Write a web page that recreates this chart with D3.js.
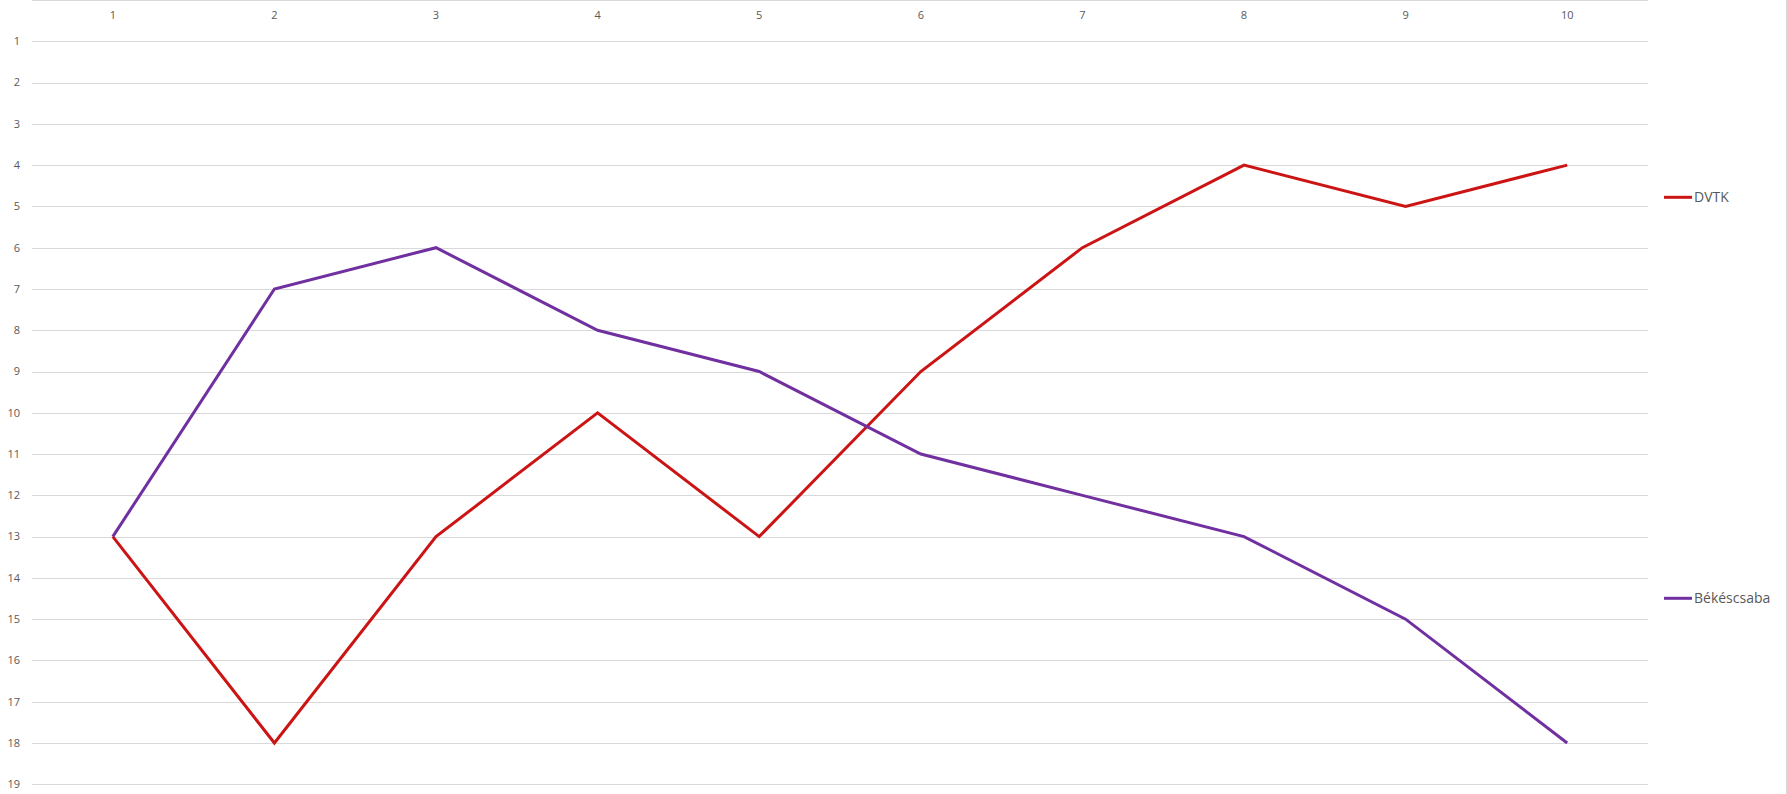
<!DOCTYPE html>
<html><head><meta charset="utf-8">
<script src="https://cdn.jsdelivr.net/npm/d3@7"></script>
<style>
html,body{margin:0;padding:0;background:#fff;}
svg{display:block;}
text{font-family:"Open Sans","Noto Sans",sans-serif;}
</style></head>
<body>
<svg id="chart" width="1787" height="794"></svg>
<script>
const rounds = [1,2,3,4,5,6,7,8,9,10];
const dvtk = [13,18,13,10,13,9,6,4,5,4];
const bekescsaba = [13,7,6,8,9,11,12,13,15,18];
const yTicks = [1,2,3,4,5,6,7,8,9,10,11,12,13,14,15,16,17,18,19];
const seriesNames = ["DVTK","Békéscsaba"];
const seriesColors = ["#cc1414","#7030a0"];

const svg = d3.select("#chart");
const plotLeft = 32, plotRight = 1648, plotTop = 0, plotBottom = 784.3;

const x = d3.scaleBand().domain(rounds).range([plotLeft, plotRight]);
const y = d3.scaleLinear().domain([0,19]).range([plotTop, plotBottom]);

// gridlines
svg.append("g").selectAll("line").data([0].concat(yTicks)).join("line")
  .attr("x1", plotLeft).attr("x2", plotRight)
  .attr("y1", d => Math.round(y(d))+0.5).attr("y2", d => Math.round(y(d))+0.5)
  .attr("stroke", "#d9d9d9").attr("stroke-width", 1);

// y labels
svg.append("g").selectAll("text").data(yTicks).join("text")
  .attr("x", 20).attr("y", d => y(d)).attr("dy", "0.35em")
  .attr("text-anchor", "end").attr("font-size", 11).attr("fill", "#595959")
  .text(d => d);

// x labels at top
svg.append("g").selectAll("text").data(rounds).join("text")
  .attr("x", d => x(d) + x.bandwidth()/2).attr("y", 15).attr("dy", "0.35em")
  .attr("text-anchor", "middle").attr("font-size", 11).attr("fill", "#595959")
  .text(d => d);

// right border
svg.append("line").attr("x1", 1786.5).attr("x2", 1786.5).attr("y1", 0).attr("y2", 794)
  .attr("stroke", "#d9d9d9");

const line = d3.line().x((d,i) => x(rounds[i]) + x.bandwidth()/2).y(d => y(d));
const series = [dvtk, bekescsaba];
series.forEach((s, k) => {
  svg.append("path").datum(s).attr("d", line).attr("fill", "none")
    .attr("stroke", seriesColors[k]).attr("stroke-width", 3)
    .attr("stroke-linejoin", "miter");
});

// legend
const legendY = [197.3, 598.3];
seriesNames.forEach((n, k) => {
  svg.append("line").attr("x1", 1664).attr("x2", 1692)
    .attr("y1", legendY[k]).attr("y2", legendY[k])
    .attr("stroke", seriesColors[k]).attr("stroke-width", 3);
  svg.append("text").attr("x", 1694).attr("y", legendY[k]).attr("dy", "0.35em")
    .attr("font-size", 14).attr("fill", "#595959").text(n);
});
</script>
</body></html>
